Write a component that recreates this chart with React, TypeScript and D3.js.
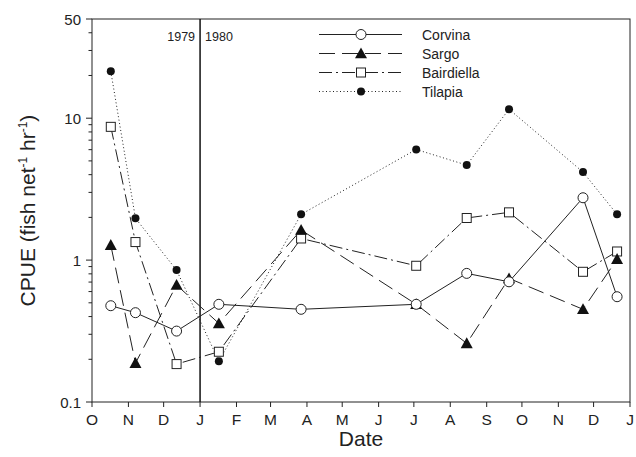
import React from "react";
import * as d3 from "d3";

const monthLabels = ["O", "N", "D", "J", "F", "M", "A", "M", "J", "J", "A", "S", "O", "N", "D", "J"];
const sampleDates = ["1979-10-17", "1979-11-07", "1979-12-12", "1980-01-17", "1980-03-27", "1980-07-03", "1980-08-15", "1980-09-20", "1980-11-22", "1980-12-21"];
const corvina = [0.477, 0.426, 0.316, 0.488, 0.45, 0.488, 0.806, 0.703, 2.75, 0.552];
const sargo = [1.275, 0.188, 0.667, 0.358, 1.63, 0.488, 0.259, 0.743, 0.45, 1.016];
const bairdiella = [8.69, 1.34, 0.185, 0.226, 1.42, 0.912, 1.98, 2.17, 0.827, 1.15];
const tilapia = [21.4, 1.97, 0.85, 0.194, 2.1, 6.02, 4.67, 11.57, 4.17, 2.1];
const yMajor = [0.1, 1, 10, 50];
const yMinor = [0.2, 0.3, 0.4, 0.5, 0.6, 0.7, 0.8, 0.9, 2, 3, 4, 5, 6, 7, 8, 9, 20, 30, 40];
const seriesNames = ["Corvina", "Sargo", "Bairdiella", "Tilapia"];

const W = 636, H = 457;
const L = 92, R = 630, T = 19, B = 402;
const font = "Liberation Sans, Arial, sans-serif";
const ink = "#222";

const x = d3.scaleUtc().domain([new Date(Date.UTC(1979, 9, 1)), new Date(Date.UTC(1981, 0, 1))]).range([L, R]);
const y = d3.scaleLog().domain([0.1, 50]).range([B, T]);

const styles: Record<string, { dash: string; marker: string }> = {
  Corvina: { dash: "none", marker: "openCircle" },
  Sargo: { dash: "16,7", marker: "triangle" },
  Bairdiella: { dash: "13,4,2,4", marker: "openSquare" },
  Tilapia: { dash: "1,2.5", marker: "dot" },
};

function Marker({ type, cx, cy }: { type: string; cx: number; cy: number }) {
  if (type === "openCircle") return <circle cx={cx} cy={cy} r={5} fill="#fff" stroke={ink} strokeWidth={1} />;
  if (type === "dot") return <circle cx={cx} cy={cy} r={4} fill="#111" />;
  if (type === "openSquare") return <rect x={cx - 4.5} y={cy - 4.5} width={9} height={9} fill="#fff" stroke={ink} strokeWidth={1} />;
  const s = 6;
  return <path d={`M${cx},${cy - s}L${cx + s},${cy + s * 0.8}L${cx - s},${cy + s * 0.8}Z`} fill="#111" />;
}

export default function App() {
  const dates = sampleDates.map((d) => new Date(d + "T00:00:00Z"));
  const data: Record<string, number[]> = { Corvina: corvina, Sargo: sargo, Bairdiella: bairdiella, Tilapia: tilapia };
  const line = d3.line<[Date, number]>().x((d) => x(d[0])).y((d) => y(d[1]));
  const monthTicks = d3.utcMonth.range(new Date(Date.UTC(1979, 9, 1)), new Date(Date.UTC(1981, 0, 2)));
  const jan80 = x(new Date(Date.UTC(1980, 0, 1)));
  const drawOrder = ["Tilapia", "Bairdiella", "Sargo", "Corvina"];

  return (
    <svg width={W} height={H} style={{ position: "absolute", left: 0, top: 0, background: "#fff" }} fontFamily={font}>
      <rect x={0} y={0} width={W} height={H} fill="#fff" />
      {/* frame */}
      <rect x={L} y={T} width={R - L} height={B - T} fill="none" stroke={ink} strokeWidth={1} />
      {/* year divider */}
      <line x1={jan80} x2={jan80} y1={T} y2={B} stroke="#111" strokeWidth={1.5} />
      <text x={jan80 - 5} y={41} fontSize={12.5} textAnchor="end" fill={ink}>1979</text>
      <text x={jan80 + 5} y={41} fontSize={12.5} textAnchor="start" fill={ink}>1980</text>

      {/* y ticks */}
      {yMajor.map((v) => (
        <g key={"ym" + v}>
          <line x1={L - 6} x2={L} y1={y(v)} y2={y(v)} stroke={ink} />
          <text x={L - 11} y={y(v) + 5.5} fontSize={15} textAnchor="end" fill={ink}>{v}</text>
        </g>
      ))}
      {yMinor.map((v) => (
        <line key={"yn" + v} x1={L - 3.5} x2={L} y1={y(v)} y2={y(v)} stroke={ink} />
      ))}

      {/* x ticks */}
      {monthTicks.map((d, i) => (
        <g key={"xm" + i}>
          <line x1={x(d)} x2={x(d)} y1={B} y2={B + 5} stroke={ink} />
          <text x={x(d)} y={B + 22.5} fontSize={15.5} textAnchor="middle" fill={ink}>{monthLabels[i]}</text>
        </g>
      ))}

      {/* axis titles */}
      <text x={(L + R) / 2} y={446} fontSize={21} textAnchor="middle" fill={ink}>Date</text>
      <text transform={`translate(35,${(T + B) / 2}) rotate(-90)`} fontSize={21} textAnchor="middle" fill={ink}>
        CPUE (fish net<tspan dy={-8} fontSize={12}>-1</tspan><tspan dy={8}> hr</tspan><tspan dy={-8} fontSize={12}>-1</tspan><tspan dy={8}>)</tspan>
      </text>

      {/* series lines */}
      {drawOrder.map((name) => (
        <path key={"l" + name} d={line(dates.map((d, i) => [d, data[name][i]]))!} fill="none" stroke={ink} strokeWidth={1} strokeDasharray={styles[name].dash} />
      ))}
      {drawOrder.map((name) => (
        <g key={"m" + name}>
          {dates.map((d, i) => (
            <Marker key={i} type={styles[name].marker} cx={x(d)} cy={y(data[name][i])} />
          ))}
        </g>
      ))}

      {/* legend */}
      {seriesNames.map((name, i) => {
        const ly = 34.5 + i * 19;
        return (
          <g key={"lg" + name}>
            <line x1={319} x2={402} y1={ly} y2={ly} stroke={ink} strokeWidth={1} strokeDasharray={styles[name].dash} />
            <Marker type={styles[name].marker} cx={361} cy={ly} />
            <text x={422} y={ly + 5} fontSize={14} fill={ink}>{name}</text>
          </g>
        );
      })}
    </svg>
  );
}
